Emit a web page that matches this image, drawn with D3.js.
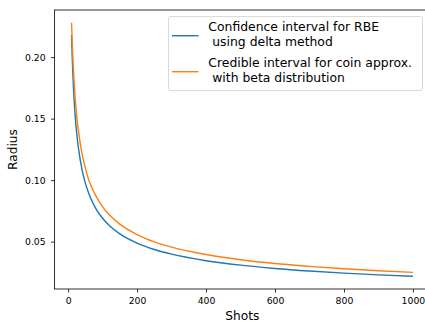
<!DOCTYPE html>
<html>
<head>
<meta charset="utf-8">
<script src="https://cdn.jsdelivr.net/npm/d3@7"></script>
<style>
  html, body { margin: 0; padding: 0; background: #fff; }
  svg { display: block; font-family: "DejaVu Sans", sans-serif; }
</style>
</head>
<body>
<div id="chart"></div>
<script>
// Data
const shots = [10, 12, 15, 20, 25, 30, 40, 50, 60, 70, 80, 100, 120, 150, 200, 250, 300, 400, 500, 600, 700, 800, 900, 1000];
const deltaRadius = [0.218, 0.199, 0.178, 0.154, 0.138, 0.126, 0.109, 0.0976, 0.0891, 0.0825, 0.0771, 0.0690, 0.0630, 0.0563, 0.0488, 0.0436, 0.0398, 0.0345, 0.0309, 0.0282, 0.0261, 0.0244, 0.0230, 0.0218];
const betaRadius = [0.228, 0.211, 0.192, 0.169, 0.152, 0.140, 0.122, 0.110, 0.100, 0.0932, 0.0874, 0.0783, 0.0716, 0.0642, 0.0557, 0.0498, 0.0455, 0.0395, 0.0353, 0.0322, 0.0299, 0.0279, 0.0263, 0.0250];
const seriesNames = ["Confidence interval for RBE\n using delta method", "Credible interval for coin approx.\n with beta distribution"];
const seriesColors = ["#1f77b4", "#ff7f0e"];
const xTicks = [0, 200, 400, 600, 800, 1000];
const yTicks = [0.05, 0.10, 0.15, 0.20];

const W = 425, H = 322;
const plot = { left: 54.5, top: 10, right: 430, bottom: 289 };

const svg = d3.select("#chart").append("svg").attr("width", W).attr("height", H);

const allY = deltaRadius.concat(betaRadius);
const xExt = d3.extent(shots), yExt = d3.extent(allY);
const xPad = (xExt[1] - xExt[0]) * 0.05, yPad = (yExt[1] - yExt[0]) * 0.05;
const x = d3.scaleLinear().domain([xExt[0] - xPad, xExt[1] + xPad]).range([plot.left, plot.right]);
const y = d3.scaleLinear().domain([yExt[0] - yPad, yExt[1] + yPad]).range([plot.bottom, plot.top]);

const series = [deltaRadius, betaRadius].map((vals, i) => ({
  name: seriesNames[i], color: seriesColors[i],
  pts: shots.map((s, j) => [s, vals[j]])
}));

svg.append("clipPath").attr("id", "clip").append("rect")
  .attr("x", plot.left).attr("y", plot.top)
  .attr("width", plot.right - plot.left).attr("height", plot.bottom - plot.top);

const line = d3.line().x(d => x(d[0])).y(d => y(d[1])).curve(d3.curveMonotoneX);
svg.append("g").attr("clip-path", "url(#clip)").selectAll("path").data(series).join("path")
  .attr("d", d => line(d.pts)).attr("fill", "none")
  .attr("stroke", d => d.color).attr("stroke-width", 1.4).attr("stroke-linejoin", "round");

// axes
const xAxis = svg.append("g").attr("transform", `translate(0,${plot.bottom})`)
  .call(d3.axisBottom(x).tickValues(xTicks).tickFormat(d3.format("d")).tickSize(3.5).tickPadding(5));
const yAxis = svg.append("g").attr("transform", `translate(${plot.left},0)`)
  .call(d3.axisLeft(y).tickValues(yTicks).tickFormat(d3.format(".2f")).tickSize(3.5).tickPadding(5.3));
[xAxis, yAxis].forEach(g => {
  g.select(".domain").remove();
  g.selectAll(".tick line").attr("stroke", "#000").attr("stroke-width", 0.8);
  g.selectAll(".tick text").attr("font-family", "DejaVu Sans").attr("font-size", 9.3).attr("fill", "#000");
});

// spines
svg.append("rect").attr("x", plot.left).attr("y", plot.top)
  .attr("width", plot.right - plot.left).attr("height", plot.bottom - plot.top)
  .attr("fill", "none").attr("stroke", "#000").attr("stroke-width", 0.8);

// axis labels
svg.append("text").attr("x", (plot.left + plot.right) / 2).attr("y", 320)
  .attr("text-anchor", "middle").attr("font-size", 12.2).text("Shots");
svg.append("text").attr("transform", `translate(17,${(plot.top + plot.bottom) / 2}) rotate(-90)`)
  .attr("text-anchor", "middle").attr("font-size", 12.2).text("Radius");

// legend
const lg = svg.append("g");
lg.append("rect").attr("x", 168.5).attr("y", 16.5).attr("width", 254).attr("height", 74)
  .attr("rx", 2.5).attr("fill", "#fff").attr("fill-opacity", 0.8)
  .attr("stroke", "#d0d0d0").attr("stroke-width", 0.8);
series.forEach((s, i) => {
  const cy = 35.7 + i * 36;
  lg.append("line").attr("x1", 172).attr("x2", 198.5).attr("y1", cy).attr("y2", cy)
    .attr("stroke", s.color).attr("stroke-width", 1.4);
  const t = lg.append("text").attr("font-size", 12.4).attr("xml:space", "preserve")
    .style("white-space", "pre");
  s.name.split("\n").forEach((ln, k) => {
    t.append("tspan").attr("x", 208.3).attr("y", 31.3 + i * 36 + k * 15).text(ln);
  });
});
</script>
</body>
</html>
